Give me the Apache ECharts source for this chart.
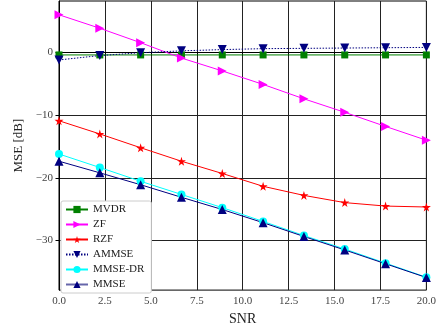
<!DOCTYPE html>
<html><head><meta charset="utf-8">
<script src="https://cdn.jsdelivr.net/npm/echarts@6/dist/echarts.min.js"></script>
<style>html,body{margin:0;padding:0;background:#fff}#c{width:439px;height:331px}</style>
</head><body><div id="c"></div>
<script>
const snr = [0, 2.222, 4.444, 6.667, 8.889, 11.111, 13.333, 15.556, 17.778, 20];
const mvdr = [-0.4, -0.4, -0.4, -0.4, -0.4, -0.4, -0.4, -0.4, -0.4, -0.4];
const zf = [6.0, 3.85, 1.55, -0.9, -2.95, -5.1, -7.4, -9.55, -11.8, -14.0];
const rzf = [-10.9, -13.0, -15.2, -17.35, -19.3, -21.35, -22.8, -23.95, -24.5, -24.65];
const ammse = [-1.2, -0.5, -0.05, 0.25, 0.45, 0.6, 0.65, 0.7, 0.75, 0.8];
const mmseDr = [-16.2, -18.35, -20.55, -22.65, -24.75, -26.95, -29.2, -31.35, -33.6, -35.85];
const mmse = [-17.35, -19.2, -21.1, -23.1, -25.05, -27.15, -29.35, -31.5, -33.7, -35.9];
const yTicks = [-30, -20, -10, 0];
const names = ['MVDR', 'ZF', 'RZF', 'AMMSE', 'MMSE-DR', 'MMSE'];

const FONT = 'Liberation Serif';
const star = 'path://M50,0 L61,35 L98,35 L68,57 L79,91 L50,70 L21,91 L32,57 L2,35 L39,35 Z';
const pair = arr => snr.map((x, i) => [x, arr[i]]);

function mk(name, data, color, symbol, size, rot, dashed) {
  return {
    name, type: 'line', data: pair(data), symbol, symbolSize: size, symbolRotate: rot,
    lineStyle: { color, width: 1, type: dashed ? [1.5, 1.5] : 'solid' },
    itemStyle: { color },
    animation: false, silent: true
  };
}

const chart = echarts.init(document.getElementById('c'), null, { renderer: 'canvas' });
chart.setOption({
  animation: false,
  grid: { left: 59, right: 11, top: 1, bottom: 37, show: true, borderColor: '#000', borderWidth: 1, backgroundColor: 'transparent' },
  xAxis: {
    type: 'value', min: 0, max: 20, interval: 2.5,
    name: 'SNR', nameLocation: 'middle', nameGap: 19,
    nameTextStyle: { fontFamily: FONT, fontSize: 14, color: '#222' },
    axisLine: { lineStyle: { color: '#000', width: 1 } },
    axisTick: { show: true, length: 3.5, inside: false, lineStyle: { color: '#000' } },
    axisLabel: { fontFamily: FONT, fontSize: 11, color: '#444', margin: 6, formatter: v => v.toFixed(1) },
    splitLine: { show: true, lineStyle: { color: '#222', width: 1 } }
  },
  yAxis: {
    type: 'value', min: -37.9, max: 8.2,
    name: 'MSE [dB]', nameLocation: 'middle', nameGap: 34,
    nameTextStyle: { fontFamily: FONT, fontSize: 13, color: '#222' },
    axisLine: { show: true, lineStyle: { color: '#000', width: 1 } },
    axisTick: { show: true, length: 3.5, customValues: yTicks, lineStyle: { color: '#000' } },
    axisLabel: { fontFamily: FONT, fontSize: 11, color: '#444', margin: 6, customValues: yTicks,
      formatter: v => (v < 0 ? '\u2212' + Math.abs(v) : String(v)) },
    splitLine: { show: true, lineStyle: { color: '#222', width: 1 } }
  },
  legend: {
    data: names.map(n => n === 'MMSE' ? { name: n, lineStyle: { color: '#6666aa' } } : { name: n }),
    orient: 'vertical', left: 61, top: 201,
    padding: [3, 7, 3, 4], itemGap: 4, itemWidth: 22, itemHeight: 9,
    backgroundColor: '#fff', borderColor: '#ccc', borderWidth: 1, borderRadius: 2,
    textStyle: { fontFamily: FONT, fontSize: 11, color: '#222', lineHeight: 11 }
  },
  series: [
    mk('MVDR', mvdr, '#008000', 'rect', 7, 0, false),
    mk('ZF', zf, '#ff00ff', 'triangle', 9, -90, false),
    mk('RZF', rzf, '#ff0000', star, 9, 0, false),
    mk('AMMSE', ammse, '#000080', 'triangle', 9, 180, true),
    mk('MMSE-DR', mmseDr, '#00ffff', 'circle', 8, 0, false),
    mk('MMSE', mmse, '#000080', 'triangle', 9, 0, false)
  ]
});
</script></body></html>
